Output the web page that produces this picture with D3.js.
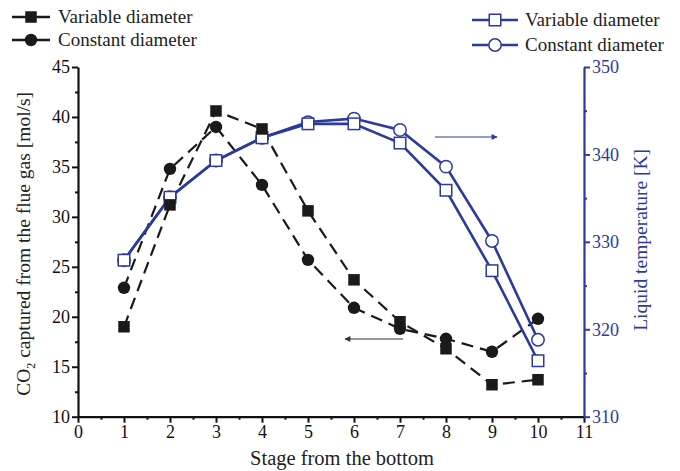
<!DOCTYPE html>
<html>
<head>
<meta charset="utf-8">
<script src="https://cdn.jsdelivr.net/npm/d3@7"></script>
<style>
  html, body { margin: 0; padding: 0; background: #fff; }
  svg { display: block; font-family: "Liberation Serif", "Times New Roman", serif; }
</style>
</head>
<body>
<svg id="chart" width="680" height="471"></svg>
<script>
// Stages counted from the bottom of the column
const stages = [1, 2, 3, 4, 5, 6, 7, 8, 9, 10];

// CO2 captured from the flue gas [mol/s]
const co2Variable = [19.0, 31.2, 40.6, 38.8, 30.6, 23.7, 19.5, 16.8, 13.2, 13.7];
const co2Constant = [22.9, 34.8, 39.0, 33.2, 25.7, 20.9, 18.8, 17.8, 16.5, 19.8];

// Liquid temperature [K]
const tempVariable = [327.9, 335.1, 339.3, 341.9, 343.5, 343.5, 341.3, 335.9, 326.7, 316.4];
const tempConstant = [327.9, 335.1, 339.3, 341.9, 343.7, 344.1, 342.8, 338.6, 330.1, 318.8];

// Axis ticks
const xTicks = [0, 1, 2, 3, 4, 5, 6, 7, 8, 9, 10, 11];
const yLeftTicks = [10, 15, 20, 25, 30, 35, 40, 45];
const yRightTicks = [310, 320, 330, 340, 350];

const BLUE = "#2b3a9c";
const svg = d3.select("#chart");

const plotLeft = 78, plotRight = 584, plotTop = 67, plotBottom = 416.7;

const x = d3.scaleLinear().domain([0, 11]).range([plotLeft, plotRight]);
const yL = d3.scaleLinear().domain([10, 45]).range([plotBottom, plotTop]);
const yR = d3.scaleLinear().domain([310, 350]).range([plotBottom, plotTop]);

// ---- Axes ----
function styleAxis(g, color) {
  g.select(".domain").attr("stroke", color).attr("stroke-width", 2.2);
  g.selectAll(".tick line").attr("stroke", color).attr("stroke-width", 2);
  g.selectAll(".tick text").attr("fill", color)
    .attr("font-family", "'Liberation Serif', 'Times New Roman', serif")
    .attr("font-size", 18);
}

// minor ticks
const xMinor = d3.range(0.5, 11, 1);
svg.append("g").attr("transform", `translate(0,${plotBottom})`)
  .call(d3.axisBottom(x).tickValues(xMinor).tickSize(3).tickFormat(""))
  .call(g => { g.select(".domain").remove(); g.selectAll("line").attr("stroke", "#111").attr("stroke-width", 2); });
svg.append("g").attr("transform", `translate(${plotLeft},0)`)
  .call(d3.axisLeft(yL).tickValues(d3.range(12.5, 45, 5)).tickSize(3).tickFormat(""))
  .call(g => { g.select(".domain").remove(); g.selectAll("line").attr("stroke", "#111").attr("stroke-width", 2); });
svg.append("g").attr("transform", `translate(${plotRight},0)`)
  .call(d3.axisRight(yR).tickValues(d3.range(315, 350, 10)).tickSize(3).tickFormat(""))
  .call(g => { g.select(".domain").remove(); g.selectAll("line").attr("stroke", BLUE).attr("stroke-width", 2); });

const gx = svg.append("g").attr("transform", `translate(0,${plotBottom})`)
  .call(d3.axisBottom(x).tickValues(xTicks).tickSize(6).tickSizeOuter(0).tickPadding(3).tickFormat(d3.format("d")));
styleAxis(gx, "#111");

const gyl = svg.append("g").attr("transform", `translate(${plotLeft},0)`)
  .call(d3.axisLeft(yL).tickValues(yLeftTicks).tickSize(6).tickSizeOuter(0).tickPadding(2).tickFormat(d3.format("d")));
styleAxis(gyl, "#111");

const gyr = svg.append("g").attr("transform", `translate(${plotRight},0)`)
  .call(d3.axisRight(yR).tickValues(yRightTicks).tickSize(6).tickSizeOuter(0).tickPadding(2).tickFormat(d3.format("d")));
styleAxis(gyr, BLUE);

// ---- Axis titles ----
svg.append("text")
  .attr("x", (plotLeft + plotRight) / 2 + 11).attr("y", 465)
  .attr("text-anchor", "middle").attr("font-size", 20.5).attr("fill", "#222")
  .text("Stage from the bottom");

const yTitle = svg.append("text")
  .attr("transform", `translate(30,${(plotTop + plotBottom) / 2 + 2}) rotate(-90)`)
  .attr("text-anchor", "middle").attr("font-size", 19.5).attr("fill", "#222");
yTitle.append("tspan").text("CO");
yTitle.append("tspan").attr("font-size", 12).attr("dy", 5).text("2");
yTitle.append("tspan").attr("dy", -5).text(" captured from the flue gas [mol/s]");

svg.append("text")
  .attr("transform", `translate(647,${(plotTop + plotBottom) / 2 - 2}) rotate(-90)`)
  .attr("text-anchor", "middle").attr("font-size", 19.5).attr("fill", BLUE)
  .text("Liquid temperature [K]");

// ---- Series ----
const lineL = d3.line().x((d, i) => x(stages[i])).y(d => yL(d));
const lineR = d3.line().x((d, i) => x(stages[i])).y(d => yR(d));

function dashedSeries(values) {
  svg.append("path").datum(values).attr("d", lineL)
    .attr("fill", "none").attr("stroke", "#1a1a1a").attr("stroke-width", 2.2)
    .attr("stroke-dasharray", "12,7");
}
function solidSeries(values) {
  svg.append("path").datum(values).attr("d", lineR)
    .attr("fill", "none").attr("stroke", BLUE).attr("stroke-width", 2.6);
}
dashedSeries(co2Variable);
dashedSeries(co2Constant);
solidSeries(tempConstant);
solidSeries(tempVariable);

const sq = 11.5, rad = 6.2;
// temperature markers (open)
svg.append("g").selectAll("circle").data(tempConstant).join("circle")
  .attr("cx", (d, i) => x(stages[i])).attr("cy", d => yR(d)).attr("r", rad)
  .attr("fill", "#fff").attr("stroke", BLUE).attr("stroke-width", 1.5);
svg.append("g").selectAll("rect").data(tempVariable).join("rect")
  .attr("x", (d, i) => x(stages[i]) - sq / 2).attr("y", d => yR(d) - sq / 2)
  .attr("width", sq).attr("height", sq)
  .attr("fill", "#fff").attr("stroke", BLUE).attr("stroke-width", 1.5);

// CO2 markers (filled)
svg.append("g").selectAll("rect").data(co2Variable).join("rect")
  .attr("x", (d, i) => x(stages[i]) - sq / 2).attr("y", d => yL(d) - sq / 2)
  .attr("width", sq).attr("height", sq).attr("fill", "#1a1a1a");
svg.append("g").selectAll("circle").data(co2Constant).join("circle")
  .attr("cx", (d, i) => x(stages[i])).attr("cy", d => yL(d)).attr("r", rad)
  .attr("fill", "#1a1a1a");

// ---- Direction arrows ----
const defs = svg.append("defs");
function arrowHead(id, color) {
  defs.append("marker").attr("id", id).attr("viewBox", "0 0 10 10")
    .attr("refX", 9).attr("refY", 5).attr("markerWidth", 10).attr("markerHeight", 6)
    .attr("markerUnits", "userSpaceOnUse").attr("orient", "auto")
    .append("path").attr("d", "M0,0 L10,5 L0,10 z").attr("fill", color);
}
arrowHead("arrBlue", BLUE);
arrowHead("arrBlack", "#333");
svg.append("line").attr("x1", 435).attr("x2", 497).attr("y1", 137).attr("y2", 137)
  .attr("stroke", BLUE).attr("stroke-width", 1.2).attr("marker-end", "url(#arrBlue)");
svg.append("line").attr("x1", 403).attr("x2", 345).attr("y1", 339).attr("y2", 339)
  .attr("stroke", "#333").attr("stroke-width", 1.2).attr("marker-end", "url(#arrBlack)");

// ---- Legends ----
function legendRow(x0, x1, y, textX, label, color, shape, filled) {
  const g = svg.append("g");
  g.append("line").attr("x1", x0).attr("x2", x1).attr("y1", y).attr("y2", y)
    .attr("stroke", color).attr("stroke-width", 2.6);
  const cx = (x0 + x1) / 2;
  if (shape === "square") {
    g.append("rect").attr("x", cx - sq / 2).attr("y", y - sq / 2).attr("width", sq).attr("height", sq)
      .attr("fill", filled ? color : "#fff").attr("stroke", color).attr("stroke-width", filled ? 0 : 1.5);
  } else {
    g.append("circle").attr("cx", cx).attr("cy", y).attr("r", rad)
      .attr("fill", filled ? color : "#fff").attr("stroke", color).attr("stroke-width", filled ? 0 : 1.5);
  }
  g.append("text").attr("x", textX).attr("y", y + 6).attr("font-size", 19).attr("fill", "#222").text(label);
}
legendRow(12, 50, 17, 58, "Variable diameter", "#1a1a1a", "square", true);
legendRow(12, 50, 40, 58, "Constant diameter", "#1a1a1a", "circle", true);
legendRow(472, 518, 20, 525, "Variable diameter", BLUE, "square", false);
legendRow(472, 518, 45, 525, "Constant diameter", BLUE, "circle", false);
</script>
</body>
</html>
